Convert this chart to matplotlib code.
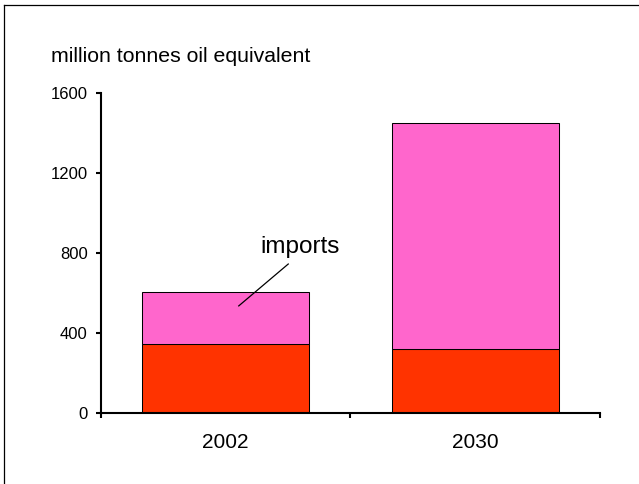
import matplotlib.pyplot as plt
from matplotlib.lines import Line2D

plt.rcParams["font.family"] = ["Liberation Sans", "DejaVu Sans"]

years = ["2002", "2030"]
domestic = [345, 320]
imports = [260, 1130]
y_ticks = [0, 400, 800, 1200, 1600]

red = "#FF3300"
pink = "#FF66CC"

fig = plt.figure(figsize=(6.39, 4.84), dpi=100)
ax = fig.add_axes([100.5 / 639, 1 - 413.3 / 484, 500 / 639, 320.6 / 484])

x = range(len(years))
ax.bar(x, domestic, width=0.666, color=red, edgecolor="black", linewidth=0.75)
ax.bar(x, imports, width=0.666, bottom=domestic, color=pink,
       edgecolor="black", linewidth=0.75)

ax.set_xlim(-0.5, len(years) - 0.5)
ax.set_ylim(0, 1600)
ax.set_yticks(y_ticks)
ax.set_yticklabels([str(v) for v in y_ticks], fontsize=12)

# category labels in the middle, tick marks on the boundaries
ax.set_xticks(list(x))
ax.set_xticklabels(years, fontsize=15)
ax.set_xticks([i - 0.5 for i in range(len(years) + 1)], minor=True)
ax.tick_params(axis="x", which="major", length=0, pad=14)
ax.tick_params(axis="x", which="minor", length=3.6, width=1.5, direction="out")
ax.tick_params(axis="y", length=3.6, width=1.5, direction="out", pad=5.5)

for side in ("top", "right"):
    ax.spines[side].set_visible(False)
for side in ("left", "bottom"):
    ax.spines[side].set_linewidth(1.5)

# label the imports segment of the first bar
ax.plot([0.053, 0.251], [536, 745], color="black", linewidth=0.9)
ax.text(0.138, 801, "imports", fontsize=17.5, va="baseline", ha="left")

fig.text(50.7 / 639, 1 - 61.7 / 484, "million tonnes oil equivalent",
         fontsize=15.3, va="baseline", ha="left")

# frame lines along the top and left edges
fig.add_artist(Line2D([4 / 639, 1], [1 - 5 / 484, 1 - 5 / 484],
                      transform=fig.transFigure, color="black", linewidth=0.9))
fig.add_artist(Line2D([4 / 639, 4 / 639], [0, 1 - 5 / 484],
                      transform=fig.transFigure, color="black", linewidth=0.9))

fig.savefig("out.png", dpi=100)
